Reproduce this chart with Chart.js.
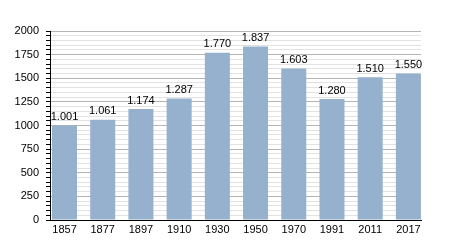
<!DOCTYPE html>
<html>
<head>
<meta charset="utf-8">
<script src="https://cdn.jsdelivr.net/npm/chart.js@4/dist/chart.umd.min.js"></script>
<style>
  html, body { margin: 0; padding: 0; background: #fff; }
  #wrap { width: 450px; height: 250px; }
</style>
</head>
<body>
<div id="wrap"><canvas id="chart" width="450" height="250"></canvas></div>
<script>
const years = ["1857", "1877", "1897", "1910", "1930", "1950", "1970", "1991", "2011", "2017"];
const population = [1001, 1061, 1174, 1287, 1770, 1837, 1603, 1280, 1510, 1550];
const yMax = 2000;
const yStep = 50;
const yLabelStep = 250;

// 1001 -> "1.001"
const fmt = v => String(v).replace(/\B(?=(\d{3})+(?!\d))/g, ".");

const valueLabels = {
  id: "valueLabels",
  afterDatasetsDraw(chart) {
    const ctx = chart.ctx;
    const meta = chart.getDatasetMeta(0);
    ctx.save();
    ctx.font = "11px 'Liberation Sans', Arial, sans-serif";
    ctx.fillStyle = "#000";
    ctx.textAlign = "center";
    ctx.textBaseline = "bottom";
    meta.data.forEach((bar, i) => {
      ctx.fillText(fmt(population[i]), bar.x, bar.y - 3);
    });
    ctx.restore();
  }
};

new Chart(document.getElementById("chart"), {
  type: "bar",
  data: {
    datasets: [{
      data: population.map((v, i) => ({ x: i, y: v })),
      backgroundColor: "#95b1cd",
      borderWidth: 0,
      barPercentage: 0.655,
      categoryPercentage: 1
    }]
  },
  options: {
    responsive: false,
    animation: false,
    layout: { padding: { top: 31, right: 29, left: 0, bottom: 0 } },
    plugins: { legend: { display: false }, tooltip: { enabled: false } },
    scales: {
      x: {
        type: "linear",
        min: -0.38,
        max: 9.33,
        offset: false,
        grid: { display: false, drawTicks: false },
        border: { color: "#000", width: 1 },
        afterBuildTicks(scale) {
          scale.ticks = years.map((y, i) => ({ value: i }));
        },
        ticks: {
          color: "#000",
          padding: 3,
          maxRotation: 0,
          autoSkip: false,
          font: { size: 11, family: "'Liberation Sans', Arial, sans-serif" },
          callback: v => years[v]
        },
        afterFit(scale) { scale.height = 30; }
      },
      y: {
        min: 0,
        max: yMax,
        border: { color: "#000", width: 1 },
        grid: {
          color: c => (c.tick.value % yLabelStep === 0 ? "#b4b4b4" : "#e2e2e2"),
          tickColor: "#000",
          tickLength: 4,
          lineWidth: 1
        },
        ticks: {
          stepSize: yStep,
          autoSkip: false,
          color: "#000",
          padding: 7,
          font: { size: 11, family: "'Liberation Sans', Arial, sans-serif" },
          callback: v => (v % yLabelStep === 0 ? v : "")
        },
        afterFit(scale) { scale.width = 50; }
      }
    }
  },
  plugins: [valueLabels]
});
</script>
</body>
</html>
